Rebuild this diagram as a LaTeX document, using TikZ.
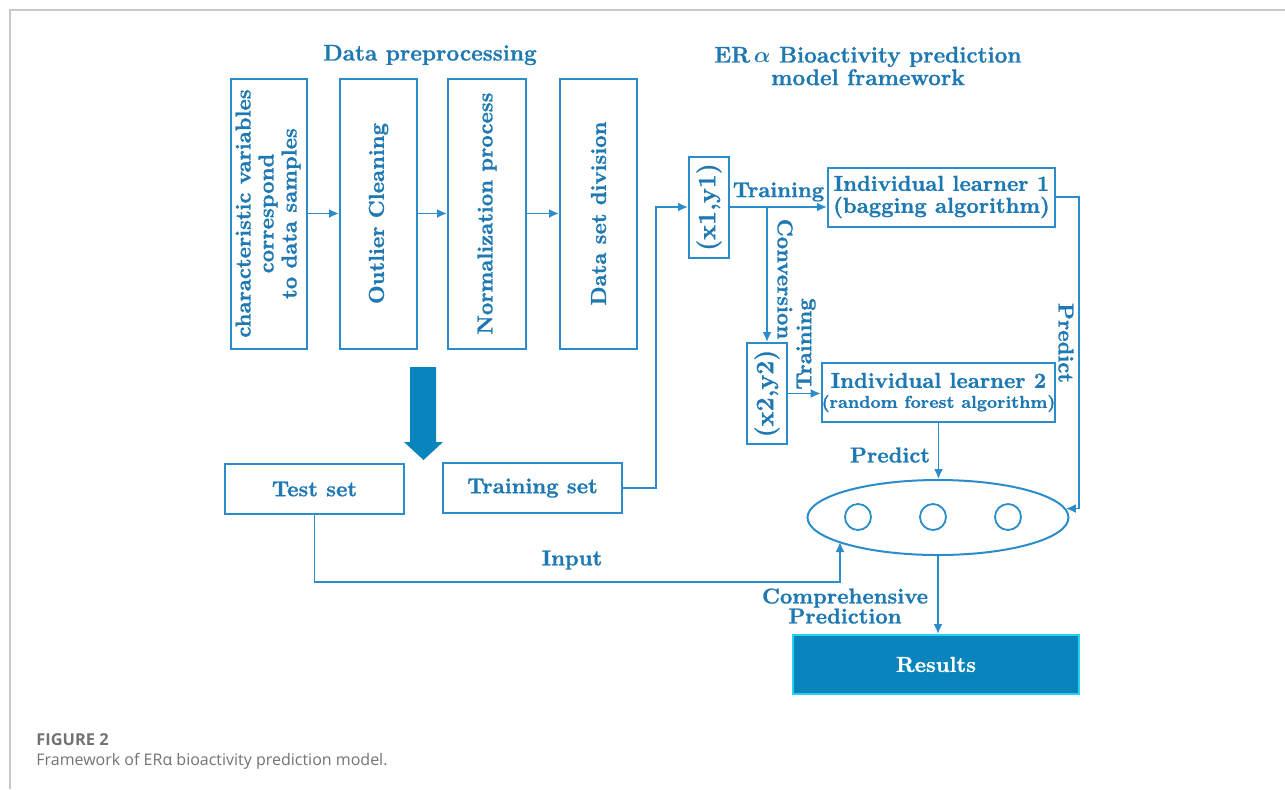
\documentclass[tikz,border=0pt]{standalone}
\usepackage{amsmath,amssymb}
\usepackage{xcolor}
\usepackage{graphicx}
\usepackage{fontspec}
\usetikzlibrary{arrows.meta,shapes.geometric}
\newfontfamily\capfont{Open Sans}
\newfontfamily\boxfont{Latin Modern Roman}[BoldFeatures={FakeBold=1.1}]

\definecolor{lineblue}{HTML}{2B8CCB}
\definecolor{textblue}{HTML}{1E78B2}
\definecolor{resblue}{HTML}{0A84BC}
\definecolor{rescyan}{HTML}{22D2EE}
\definecolor{framegray}{HTML}{C8C8C8}
\definecolor{capgray}{HTML}{737373}

\begin{document}
\begin{tikzpicture}[x=0.5pt, y=-0.5pt, >={Latex[length=5pt,width=4.5pt]},
    every node/.style={text=textblue, font=\boxfont\fontsize{10.8}{12.5}\selectfont\bfseries},
    block/.style={draw=lineblue, line width=1pt, rectangle, align=center, inner sep=0pt},
    link/.style={draw=lineblue, line width=0.9pt},
    title/.style={font=\boxfont\fontsize{11.3}{11.3}\selectfont\bfseries, align=center}]
  \useasboundingbox (0,0) rectangle (1285,789);
  \draw [framegray, line width=1pt] (9.5,789) -- (9.5,9.5) -- (1285,9.5);

  % Titles
  \node [title] (pretitle) at (430,55) {Data preprocessing};
  \node [title] (modtitle) at (868,66)
    {ER\,$\boldsymbol{\alpha}$ Bioactivity prediction\\model framework};

  % Define blocks
  \node [block, minimum width=38pt, minimum height=135pt] (feat) at (268.5,213.5)
    {\rotatebox{90}{\begin{tabular}{@{}c@{}}characteristic variables\\[-1pt]correspond\\[-1pt]to data samples\end{tabular}}};
  \node [block, minimum width=38.5pt, minimum height=135pt] (clean) at (378.5,213.5)
    {\rotatebox{90}{Outlier Cleaning}};
  \node [block, minimum width=39pt, minimum height=135pt] (norm) at (487,213.5)
    {\rotatebox{90}{Normalization process}};
  \node [block, minimum width=38.5pt, minimum height=135pt] (divide) at (598.5,213.5)
    {\rotatebox{90}{Data set division}};

  \node [block, minimum width=89.5pt, minimum height=25pt] (test) at (314.5,489) {Test set};
  \node [block, minimum width=89.5pt, minimum height=25pt] (train) at (532.5,488) {Training set};

  \node [block, minimum width=20pt, minimum height=50.5pt] (xy1) at (709,207)
    {\rotatebox{90}{\fontsize{12.5}{14}\selectfont(x1,y1)}};
  \node [block, minimum width=20pt, minimum height=50.5pt] (xy2) at (767,393.5)
    {\rotatebox{90}{\fontsize{12.5}{14}\selectfont(x2,y2)}};

  \node [block, minimum width=113.5pt, minimum height=29.5pt] (learn1) at (941.5,197)
    {Individual learner 1\\[-1.5pt](bagging algorithm)};
  \node [block, minimum width=113.5pt, minimum height=29.5pt] (learn2) at (938.5,392.5)
    {Individual learner 2\\[-2.5pt]{\fontsize{8.6}{10}\selectfont(random forest algorithm)}};

  \node [draw=lineblue, line width=1pt, ellipse, minimum width=130.5pt, minimum height=37.5pt] (ens) at (938,517.5) {};
  \foreach \cx/\nm in {858/c1, 933/c2, 1008/c3}
    \node [draw=lineblue, line width=0.9pt, circle, minimum size=13pt, inner sep=0pt] (\nm) at (\cx,517) {};

  \node [rectangle, fill=resblue, draw=rescyan, line width=1pt, minimum width=143pt, minimum height=29.5pt,
    text=white] (res) at (936,664.5) {Results};

  % Data set split
  \fill [resblue] (410,367) -- (436,367) -- (436,442) -- (443,442) -- (423.5,460)
    -- (404,442) -- (410,442) -- cycle;

  % Connect blocks with right arrows
  \draw [link, ->] (feat) -- (clean);
  \draw [link, ->] (clean) -- (norm);
  \draw [link, ->] (norm) -- (divide);

  \draw [link, ->] (train.east) -- ++(33,0) |- (xy1.west);
  \draw [link, ->] (xy1.east) -- node[above, yshift=-1pt] {Training} (xy1.east -| learn1.west);
  \coordinate (split) at (767,207);
  \draw [link, ->] (split) -- (xy2.north);
  \node [rotate=-90] (conv) at (785,279) {Conversion};
  \draw [link, ->] (xy2.east) -- (xy2.east -| learn2.west);
  \node [rotate=90] (train2) at (806,344) {Training};

  \draw [link, ->] (learn1.east) -- ++(23,0) |- (ens.4);
  \node [rotate=-90] (pred1) at (1066,343) {Predict};
  \draw [link, ->] (learn2.south) -- (learn2.south |- ens.north);
  \node (pred2) at (890,455) {Predict};

  \coordinate (inhit) at (840,542);
  \draw [link, ->] (test.south) -- ++(0,67) -| (inhit);
  \node (input) at (572,560) {Input};

  \draw [link, ->] (ens.south) -- (ens.south |- res.north);
  \node [align=center] (comp) at (845,606) {Comprehensive\\[-2.5pt]Prediction};

  % Caption
  \node [anchor=west, inner sep=0pt, text=capgray, font=\capfont\fontsize{8.2}{10}\selectfont\bfseries] (capnum) at (36,740) {FIGURE 2};
  \node [anchor=west, inner sep=0pt, text=capgray, font=\capfont\fontsize{8}{10}\selectfont] (captext) at (36,761)
    {Framework of ERα bioactivity prediction model.};
\end{tikzpicture}
\end{document}
